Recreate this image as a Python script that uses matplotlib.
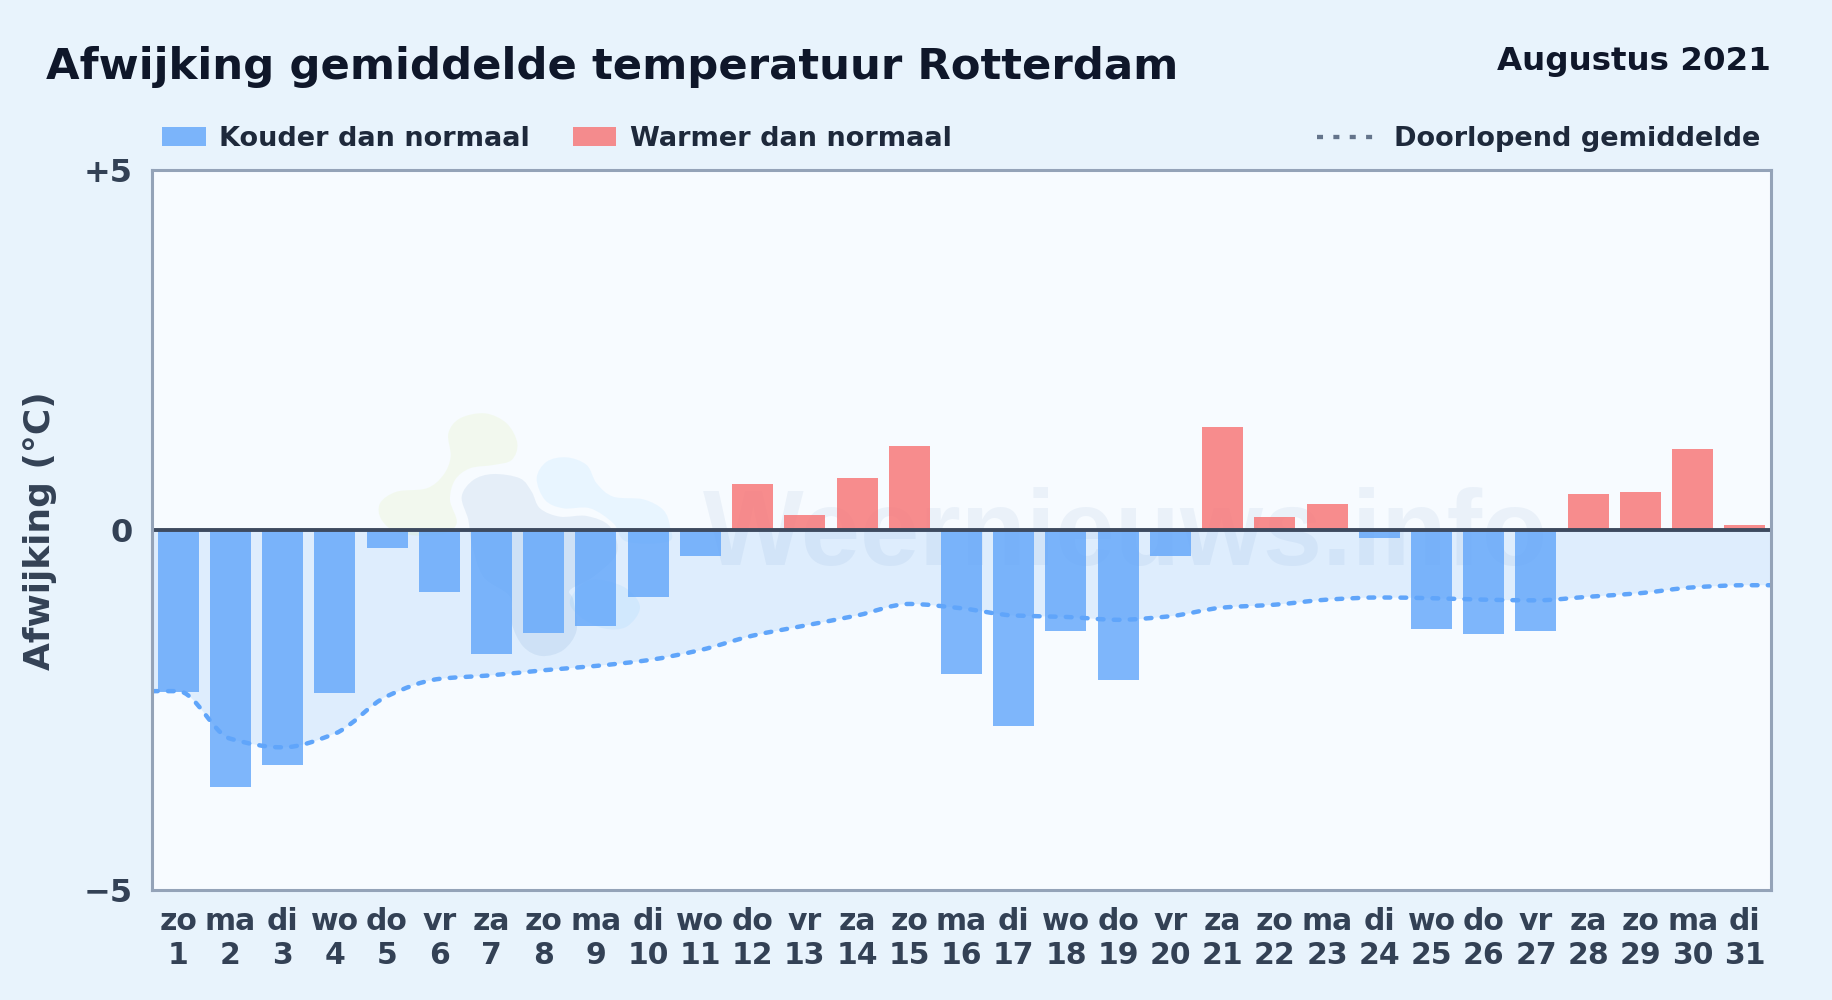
import numpy as np
import matplotlib
matplotlib.use("Agg")
import matplotlib.pyplot as plt
from matplotlib.path import Path
from matplotlib.patches import PathPatch, Rectangle
from matplotlib.lines import Line2D

plt.rcParams['font.family'] = ['DejaVu Sans']
plt.rcParams['font.weight'] = 'bold'

# Data
days = list(range(1, 32))
weekdays = ["zo", "ma", "di", "wo", "do", "vr", "za", "zo", "ma", "di", "wo", "do", "vr", "za", "zo", "ma",
            "di", "wo", "do", "vr", "za", "zo", "ma", "di", "wo", "do", "vr", "za", "zo", "ma", "di"]
deviation = [-2.25, -3.57, -3.26, -2.26, -0.25, -0.86, -1.72, -1.43, -1.33, -0.93, -0.36, 0.64, 0.20, 0.72, 1.16, -2.00,
             -2.72, -1.40, -2.08, -0.36, 1.42, 0.18, 0.36, -0.11, -1.38, -1.44, -1.40, 0.49, 0.53, 1.12, 0.07]
running_mean = [-2.24, -2.90, -3.02, -2.83, -2.31, -2.07, -2.02, -1.95, -1.89, -1.81, -1.67, -1.47, -1.33, -1.19, -1.03, -1.09,
                -1.19, -1.21, -1.25, -1.20, -1.08, -1.04, -0.97, -0.94, -0.95, -0.97, -0.98, -0.93, -0.88, -0.80, -0.77]
y_ticks = [5, 0, -5]
y_tick_labels = ["+5", "0", "\u22125"]

W, H = 1832, 1000
BLUE = "#60a5fa"
RED = "#f87171"
LINE_BLUE = "#60a5fa"


# pixel position (from the top left) to figure fraction
def px(x, y):
    return x / W, 1 - y / H


def monotone_path(x, y):
    x = np.asarray(x, float)
    y = np.asarray(y, float)
    h = np.diff(x)
    s = np.diff(y) / h
    m = np.zeros(len(x))
    for i in range(1, len(x) - 1):
        if s[i - 1] * s[i] > 0:
            m[i] = 2 * s[i - 1] * s[i] / (s[i - 1] + s[i])
    verts = [(x[0], y[0])]
    codes = [Path.MOVETO]
    for i in range(len(x) - 1):
        verts += [(x[i] + h[i] / 3, y[i] + m[i] * h[i] / 3),
                  (x[i + 1] - h[i] / 3, y[i + 1] - m[i + 1] * h[i] / 3),
                  (x[i + 1], y[i + 1])]
        codes += [Path.CURVE4] * 3
    return verts, codes


# closed smooth outline for the watermark logo
def blob(points):
    pts = np.array([px(360 + a / 3, 400 + b / 3) for a, b in points])
    n = len(pts)
    verts = [pts[0]]
    codes = [Path.MOVETO]
    for i in range(n):
        p0, p1, p2, p3 = pts[i - 1], pts[i], pts[(i + 1) % n], pts[(i + 2) % n]
        verts += [p1 + (p2 - p0) / 6, p2 - (p3 - p1) / 6, p2]
        codes += [Path.CURVE4] * 3
    return Path(verts, codes)


fig = plt.figure(figsize=(W / 100, H / 100), dpi=100, facecolor="#e8f3fc")
left, top = 152, 169.5
right, bottom = 1771, 890
ax = fig.add_axes([left / W, 1 - bottom / H, (right - left) / W, (bottom - top) / H], facecolor="#f7fbff")
ax.set_xlim(0.5, 31.5)
ax.set_ylim(-5, 5)

# shaded area and line run on to both plot edges
line_x = [0.5] + days + [31.5]
line_y = [running_mean[0]] + running_mean + [running_mean[-1]]
verts, codes = monotone_path(line_x, line_y)

fill_path = Path(verts + [(31.5, 0), (0.5, 0), (0.5, line_y[0])], codes + [Path.LINETO] * 3)
ax.add_patch(PathPatch(fill_path, facecolor="#2c8ff0", alpha=0.12, edgecolor="none", zorder=1))

colors = [RED if v > 0 else BLUE for v in deviation]
ax.bar(days, deviation, width=0.785, color=colors, alpha=0.8, zorder=3)

ax.add_patch(PathPatch(Path(verts, codes), facecolor="none", edgecolor=LINE_BLUE, lw=3.2,
                       linestyle=(0, (1.3, 2.3)), capstyle="round", zorder=4))
ax.axhline(0, color="#3d4a5f", lw=2.8, zorder=5)

# watermark, under the see-through bars
green = [(375, 40), (440, 70), (472, 130), (455, 180), (400, 195), (330, 205), (285, 240), (270, 300), (290, 370),
         (240, 405), (120, 400), (65, 360), (60, 310), (110, 275), (200, 265), (250, 225), (272, 170), (265, 100), (300, 55)]
grey = [(305, 290), (325, 360), (335, 430), (370, 530), (450, 590), (455, 670), (490, 740), (545, 768), (610, 750), (650, 690),
        (640, 600), (630, 570), (700, 530), (770, 460), (750, 380), (680, 348), (600, 350), (540, 325), (515, 275),
        (480, 235), (400, 222), (340, 240)]
sky = [(620, 172), (680, 195), (710, 250), (760, 290), (850, 298), (910, 330), (930, 380), (925, 425), (800, 425),
       (760, 370), (690, 325), (610, 325), (555, 300), (530, 235), (560, 185)]
sky_low = [(690, 540), (790, 560), (840, 620), (800, 680), (730, 685), (660, 650), (630, 600)]
for outline, col, alpha in [(green, "#c8e65f", 0.10), (grey, "#00509d", 0.07), (sky, "#30adff", 0.07), (sky_low, "#30adff", 0.07)]:
    ax.add_patch(PathPatch(blob(outline), facecolor=col, edgecolor="none", alpha=alpha,
                           transform=fig.transFigure, zorder=2))
x0, y0 = px(703, 565)
ax.text(x0, y0, "Weernieuws.info", transform=fig.transFigure, fontsize=76.8, fontweight="bold",
        family="Liberation Sans", color="#1e5aa8", alpha=0.06, ha="left", va="baseline", zorder=2, clip_on=True)

for s in ax.spines.values():
    s.set_color("#94a3b8")
    s.set_linewidth(2.2)
    s.set_zorder(6)

ax.set_xticks(days)
ax.set_xticklabels([f"{d}\n{n}" for d, n in zip(weekdays, days)], fontsize=21.5, color="#334155", linespacing=1.25)
ax.set_yticks(y_ticks)
ax.set_yticklabels(y_tick_labels, fontsize=23, color="#334155")
ax.tick_params(axis="both", length=0)
ax.tick_params(axis="x", pad=12)
ax.tick_params(axis="y", pad=14)

# title and month
fig.text(*px(46, 79), "Afwijking gemiddelde temperatuur Rotterdam", fontsize=31.2, color="#0f172a", va="baseline")
fig.text(*px(1771, 70), "Augustus 2021", fontsize=23.4, color="#0f172a", ha="right", va="baseline")
fig.text(*px(40, 531), "Afwijking (\u00b0C)", fontsize=25.9, color="#334155", rotation=90, ha="center", va="center")

# legend
fig.add_artist(Rectangle(px(162, 146), 44 / W, 19 / H, transform=fig.transFigure, facecolor=BLUE, alpha=0.8, edgecolor="none"))
fig.add_artist(Rectangle(px(573, 146), 43 / W, 19 / H, transform=fig.transFigure, facecolor=RED, alpha=0.8, edgecolor="none"))
fig.text(*px(219, 146), "Kouder dan normaal", fontsize=19.5, color="#1e293b", va="baseline")
fig.text(*px(630, 146), "Warmer dan normaal", fontsize=19.5, color="#1e293b", va="baseline")
fig.text(*px(1760, 146), "Doorlopend gemiddelde", fontsize=19.5, color="#1e293b", ha="right", va="baseline")
lx0, ly0 = px(1317, 137)
lx1, _ = px(1373, 137)
fig.add_artist(Line2D([lx0, lx1], [ly0, ly0], transform=fig.transFigure, color="#64748b", lw=3.1,
                      linestyle=(0, (1.4, 2.4))))

fig.savefig("out.png", dpi=100, facecolor=fig.get_facecolor())
